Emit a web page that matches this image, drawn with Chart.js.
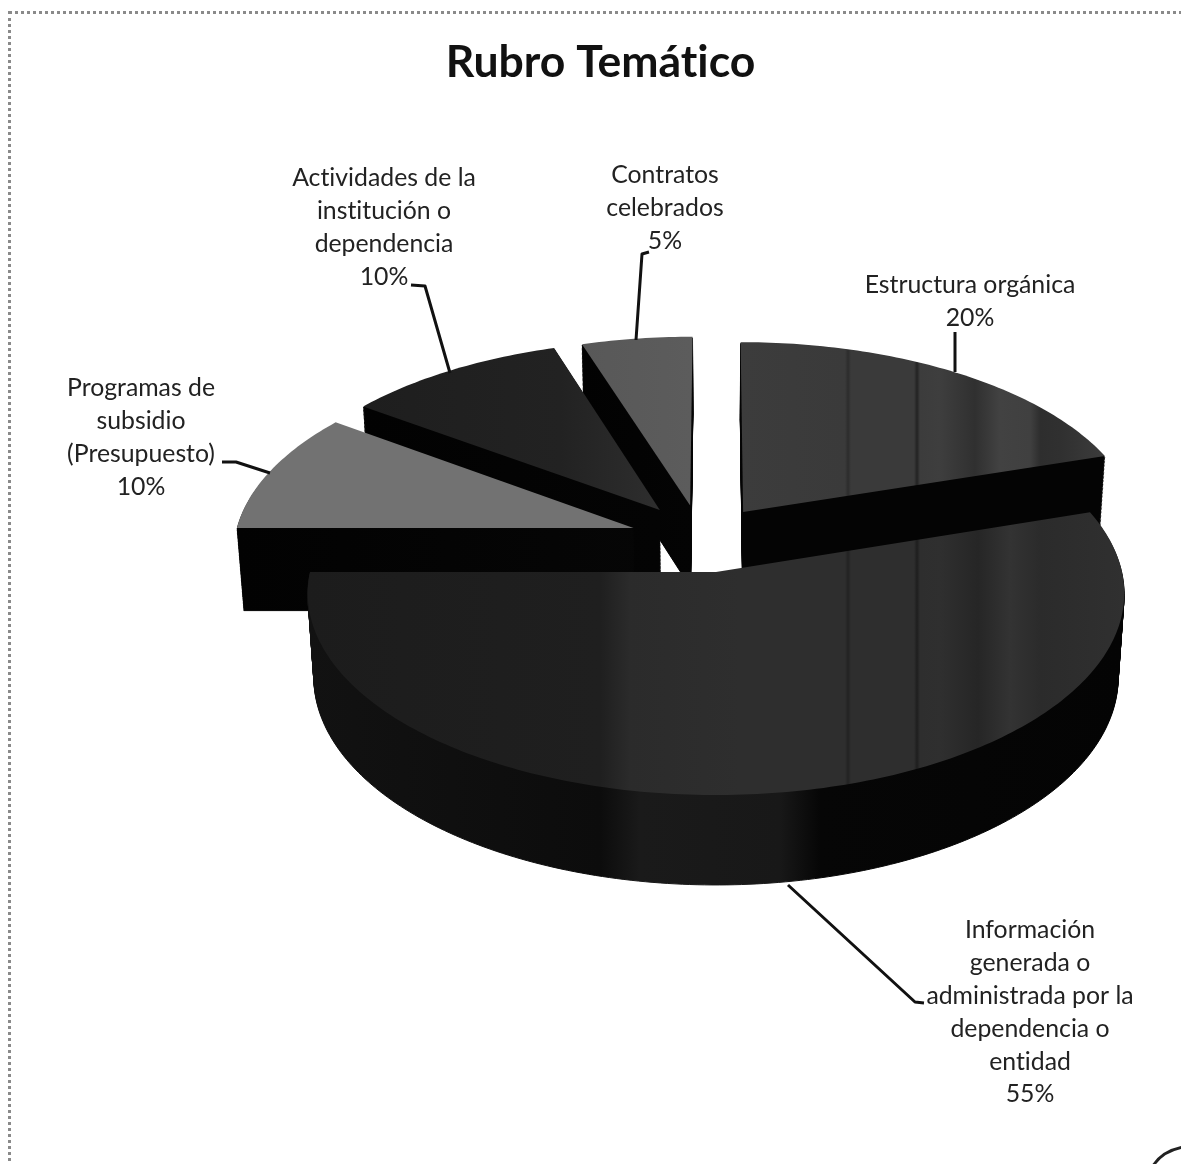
<!DOCTYPE html>
<html lang="es">
<head>
    <meta charset="UTF-8">
    <title>Rubro Temático</title>
    <script src="https://cdn.jsdelivr.net/npm/chart.js"></script>
    <style>
        body { margin: 0; background: #fff; }
        .page { position: relative; width: 1181px; height: 1164px; overflow: hidden; }
        .frame {
            position: absolute; left: 8px; top: 11px; width: 1200px; height: 1150px;
            border: 3px dotted #8a8a8a;
        }
        canvas { position: absolute; left: 0; top: 0; }
    </style>
</head>
<body>
<div class="page">
    <div class="frame"></div>
    <canvas id="pie" width="1181" height="1164"></canvas>
</div>
<script>
    const categories = ['Estructura orgánica', 'Información generada o administrada por la dependencia o entidad',
        'Programas de subsidio (Presupuesto)', 'Actividades de la institución o dependencia', 'Contratos celebrados'];
    const values = [20, 55, 10, 10, 5];
    const labelLines = [
        ['Estructura orgánica'],
        ['Información', 'generada o', 'administrada por la', 'dependencia o', 'entidad'],
        ['Programas de', 'subsidio', '(Presupuesto)'],
        ['Actividades de la', 'institución o', 'dependencia'],
        ['Contratos', 'celebrados']
    ];

    // label placement: centre x, first line middle y
    const labelPlace = [[970, 285], [1030, 930], [141, 388], [384, 178], [665, 175]];
    const leaders = [
        [[955, 332], [955, 372]],
        [[788, 885], [915, 1002], [924, 1003]],
        [[222, 462], [236, 462], [270, 473]],
        [[411, 285], [425, 286], [450, 373]],
        [[649, 252], [642, 254], [636, 340]]
    ];

    // explosion of each slice in the pie plane, as a fraction of the radius
    const explode = [[0.069, -0.31], [0, 0], [-0.208, -0.226], [-0.143, -0.321], [-0.066, -0.345]];
    const drawOrder = [4, 3, 0, 2, 1];

    // tilted view of the pie
    const view = { x: 716, y: 572, focal: 406, tilt: 0.4916, persp: 0.105, depth: 85.2, shrink: 0.015 };

    // top face and side greys along x (scan banding)
    const faceStops = [
        [[740, 0x3c], [845, 0x3a], [848, 0x2c], [851, 0x3a], [914, 0x3a], [917, 0x22], [920, 0x3c], [940, 0x3e], [975, 0x30], [1000, 0x42], [1030, 0x40], [1040, 0x2e], [1060, 0x30], [1105, 0x3c]],
        [[305, 0x1c], [600, 0x1f], [630, 0x2b], [740, 0x2e], [845, 0x2e], [848, 0x22], [851, 0x2e], [914, 0x2e], [917, 0x1e], [920, 0x2e], [940, 0x2f], [978, 0x26], [1010, 0x33], [1040, 0x2b], [1125, 0x30]],
        [[237, 0x72], [640, 0x72]],
        [[360, 0x1e], [560, 0x22], [660, 0x2e]],
        [[580, 0x58], [692, 0x5c]]
    ];
    const sideStops = [
        [[740, 0x04], [1105, 0x04]],
        [[305, 0x12], [600, 0x0c], [640, 0x1a], [780, 0x18], [820, 0x06], [1125, 0x04]],
        [[237, 0x02], [660, 0x06]],
        [[360, 0x02], [660, 0x04]],
        [[580, 0x02], [692, 0x04]]
    ];

    function project(u, v, z) {
        const w = 1 - view.persp * v + view.shrink * z;
        return [view.x + view.focal * u / w, view.y + (view.focal * view.tilt * v + view.depth * z) / w];
    }

    function bandFill(ctx, stops) {
        const x0 = stops[0][0], x1 = stops[stops.length - 1][0];
        const g = ctx.createLinearGradient(x0, 0, x1, 0);
        stops.forEach(s => g.addColorStop((s[0] - x0) / (x1 - x0), `rgb(${s[1]},${s[1]},${s[1]})`));
        return g;
    }

    function slicePath(ctx, arc, shift, z) {
        ctx.beginPath();
        const a = project(shift[0], shift[1], z);
        ctx.moveTo(a[0], a[1]);
        const steps = Math.ceil((arc.endAngle - arc.startAngle) * 60);
        for (let i = 0; i <= steps; i++) {
            const t = arc.startAngle + (arc.endAngle - arc.startAngle) * i / steps;
            const p = project(shift[0] + Math.cos(t), shift[1] + Math.sin(t), z);
            ctx.lineTo(p[0], p[1]);
        }
        ctx.closePath();
    }

    const tiltedPie = {
        id: 'tiltedPie',
        beforeDraw(chart) {
            // no "ti" ligatures, the original font has none
            chart.ctx.textRendering = 'optimizeSpeed';
        },
        beforeDatasetsDraw(chart) {
            const ctx = chart.ctx;
            const arcs = chart.getDatasetMeta(0).data;
            ctx.save();
            drawOrder.forEach(i => {
                ctx.fillStyle = bandFill(ctx, sideStops[i]);
                ctx.strokeStyle = ctx.fillStyle;
                ctx.lineWidth = 1;
                for (let n = 60; n > 0; n--) {
                    slicePath(ctx, arcs[i], explode[i], n / 60);
                    ctx.fill();
                    ctx.stroke();
                }
                ctx.fillStyle = bandFill(ctx, faceStops[i]);
                slicePath(ctx, arcs[i], explode[i], 0);
                ctx.fill();
            });
            ctx.restore();
            return false;
        },
        afterDraw(chart) {
            const ctx = chart.ctx;
            ctx.save();
            ctx.strokeStyle = '#111';
            ctx.lineWidth = 3;
            ctx.lineJoin = 'round';
            leaders.forEach(path => {
                ctx.beginPath();
                path.forEach((p, i) => i ? ctx.lineTo(p[0], p[1]) : ctx.moveTo(p[0], p[1]));
                ctx.stroke();
            });
            ctx.fillStyle = '#222';
            ctx.font = '24.8px Lato';
            ctx.textAlign = 'center';
            ctx.textBaseline = 'middle';
            labelLines.forEach((lines, i) => {
                const rows = lines.concat(values[i] + '%');
                rows.forEach((row, r) => ctx.fillText(row, labelPlace[i][0], labelPlace[i][1] + r * 32.9));
            });
            // edge of the stamp in the corner of the scan
            ctx.strokeStyle = '#222';
            ctx.beginPath();
            ctx.moveTo(1153, 1166);
            ctx.quadraticCurveTo(1162, 1151, 1183, 1147);
            ctx.stroke();
            ctx.restore();
        }
    };

    new Chart(document.getElementById('pie'), {
        type: 'pie',
        data: {
            labels: categories,
            datasets: [{ data: values, borderWidth: 0, backgroundColor: '#333' }]
        },
        options: {
            responsive: false,
            animation: false,
            layout: { padding: { left: 20 } },
            plugins: {
                legend: { display: false },
                tooltip: { enabled: false },
                title: {
                    display: true,
                    text: 'Rubro Temático',
                    fullSize: false,
                    color: '#111',
                    font: { family: 'Lato', size: 44.5, weight: 'bold' },
                    padding: { top: 36, bottom: 20 }
                }
            }
        },
        plugins: [tiltedPie]
    });
</script>
</body>
</html>
